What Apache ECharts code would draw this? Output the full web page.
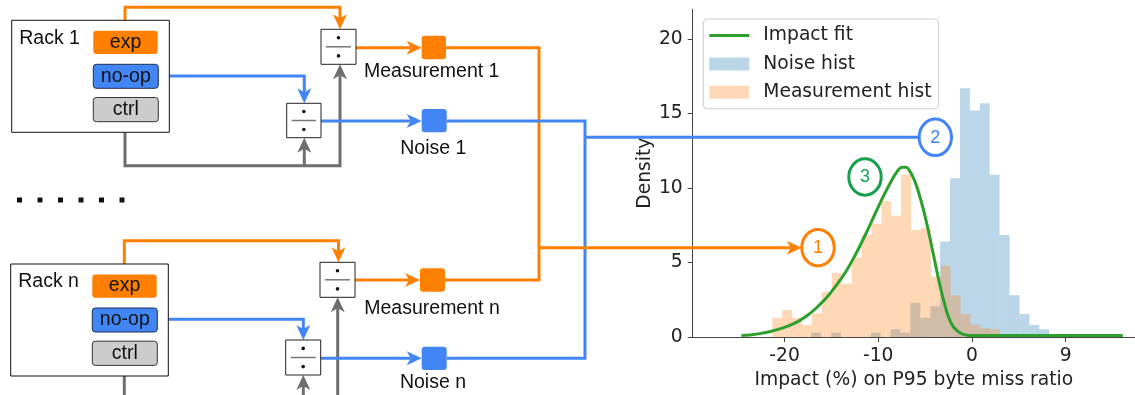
<!DOCTYPE html>
<html>
<head>
<meta charset="utf-8">
<script src="https://cdn.jsdelivr.net/npm/echarts@6/dist/echarts.min.js"></script>
<style>
  html, body { margin: 0; padding: 0; background: #fff; }
  #chart { width: 1135px; height: 395px; }
</style>
</head>
<body>
<div id="chart"></div>
<script>
// ---- chart data ----
const seriesNames = ['Impact fit', 'Noise hist', 'Measurement hist'];
const xTickValues = [-20, -10, 0, 10];
const xTickLabels = ['-20', '-10', '0', '9'];
const yTickValues = [0, 5, 10, 15, 20];

// Noise histogram: equal-width bins starting at noiseBinStart
const noiseBinStart = -17.15;
const noiseBinWidth = 1.058;
const noiseHeights = [0.3, 0, 0.3, 0, 0, 0, 0.3, 0, 0.53, 0.3, 2.3, 1.3, 2.08,
  6.41, 10.66, 16.7, 15.2, 15.7, 10.9, 6.86, 2.81, 1.55, 0.82, 0.53];

// Measurement histogram
const measBinStart = -21.3;
const measBinWidth = 1.057;
const measHeights = [1.28, 1.82, 1.28, 0.82, 1.6, 3.03, 4.31, 3.58, 5.35, 6.86,
  7.6, 9.11, 8.16, 10.92, 7.19, 7.34, 4.07, 4.8, 2.81, 1.55, 0.82, 0.6, 0.53];

// Fitted impact density
const fitX = [-24.6, -23.5, -22.5, -21.5, -20.5, -19.5, -18.5, -17.5, -16.5, -15.5,
  -14.5, -13.5, -12.5, -11.5, -10.5, -9.5, -8.5, -8.0, -7.5, -7.0, -6.5, -6.0,
  -5.5, -5.0, -4.5, -4.0, -3.5, -3.0, -2.5, -2.0, -1.5, -1.0, -0.5, 0, 2, 5, 10, 16.1];
const fitY = [0.1, 0.16, 0.25, 0.38, 0.55, 0.77, 1.07, 1.48, 2.02, 2.65,
  3.45, 4.35, 5.45, 6.7, 8.05, 9.4, 10.6, 11.1, 11.4, 11.4, 11.0, 10.3,
  9.3, 8.1, 6.7, 5.2, 3.7, 2.4, 1.35, 0.7, 0.38, 0.2, 0.13, 0.1, 0.1, 0.1, 0.1, 0.1];

// ---- styles ----
const ORANGE = '#ff8000';
const BLUE = '#4285f4';
const GRAY = '#6e6e6e';
const CIRCLE_GREEN = '#16a04e';
const FIT_GREEN = '#2ca02c';
const NOISE_FILL = 'rgba(31,119,180,0.3)';
const MEAS_FILL = 'rgba(255,127,14,0.3)';
const DIAGRAM_FONT = '"Liberation Sans", Arial, sans-serif';
const CHART_FONT = '"DejaVu Sans", sans-serif';

function binsToData(start, width, heights) {
  const out = [];
  heights.forEach((h, i) => {
    if (h > 0) out.push([start + i * width, start + (i + 1) * width, h]);
  });
  return out;
}

function renderBin(params, api) {
  const topLeft = api.coord([api.value(0), api.value(2)]);
  const bottomRight = api.coord([api.value(1), 0]);
  return {
    type: 'rect',
    shape: {
      x: topLeft[0], y: topLeft[1],
      width: bottomRight[0] - topLeft[0],
      height: bottomRight[1] - topLeft[1]
    },
    style: { fill: api.visual('color') }
  };
}

// ---- pipeline diagram ----
const g = [];
function poly(points, color, z) {
  g.push({ type: 'polyline', z: z || 20, silent: true,
    shape: { points: points },
    style: { stroke: color, lineWidth: 3, fill: 'none', lineJoin: 'miter', lineCap: 'butt' } });
}
const AL = 15, AW = 7, AN = 11;
function arrowHead(x, y, dir, color, z) {
  let pts;
  if (dir === 'down') pts = [[x, y], [x - AW, y - AL], [x, y - AN], [x + AW, y - AL]];
  else if (dir === 'up') pts = [[x, y], [x - AW, y + AL], [x, y + AN], [x + AW, y + AL]];
  else pts = [[x, y], [x - AL, y - AW], [x - AN, y], [x - AL, y + AW]];
  g.push({ type: 'polygon', z: (z || 20) + 1, silent: true, shape: { points: pts }, style: { fill: color } });
}
function box(x, y, w, h, fill, stroke, r) {
  g.push({ type: 'rect', z: 22, silent: true, shape: { x: x, y: y, width: w, height: h, r: r || 0 },
    style: { fill: fill, stroke: stroke || null, lineWidth: stroke ? 1 : 0 } });
}
function label(text, x, y, opts) {
  opts = opts || {};
  g.push({ type: 'text', z: opts.z || 25, silent: true, x: x, y: y,
    style: { text: text, fontSize: opts.size || 19.5, fontFamily: opts.font || DIAGRAM_FONT,
      fill: opts.color || '#111', align: opts.align || 'center', verticalAlign: 'middle',
      textAlign: opts.align || 'center', textVerticalAlign: 'middle' } });
}
function divider(x, y, w, h) {
  box(x, y, w, h, '#fff', '#222');
  const cx = x + w / 2;
  g.push({ type: 'circle', z: 23, silent: true, shape: { cx: cx, cy: y + h * 0.24, r: 1.8 }, style: { fill: '#111' } });
  g.push({ type: 'line', z: 23, silent: true, shape: { x1: x + 5, y1: y + h / 2, x2: x + w - 5, y2: y + h / 2 },
    style: { stroke: '#777', lineWidth: 1.5 } });
  g.push({ type: 'circle', z: 23, silent: true, shape: { cx: cx, cy: y + h * 0.76, r: 1.8 }, style: { fill: '#111' } });
}
function rack(name, x, y) {
  // y: top of rack box
  box(x, y, 157.6, 112, '#fff', '#111');
  label(name, x + 7.5, y + 18, { align: 'left' });
  box(x + 81.6, y + 10.4, 64.4, 23.3, ORANGE, null, 3);
  label('exp', x + 113.8, y + 22);
  box(x + 81.6, y + 44, 65, 24, BLUE, '#1d2f52', 3);
  label('no-op', x + 114.1, y + 56);
  box(x + 81.6, y + 77.2, 65, 24.2, '#cccccc', '#333', 3);
  label('ctrl', x + 114.1, y + 89.3);
}
function ring(num, cx, cy, color) {
  g.push({ type: 'ellipse', z: 30, silent: true, shape: { cx: cx, cy: cy, rx: 16.2, ry: 18.2 },
    style: { fill: '#fff', stroke: color, lineWidth: 3 } });
  label(num, cx, cy + 0.5, { color: color, size: 18, z: 31 });
}

// Rack 1 block
poly([[125, 30.7], [125, 7.3], [340, 7.3], [340, 29.3 - AN]], ORANGE);
arrowHead(340, 29.3, 'down', ORANGE);
poly([[158.3, 76], [304.3, 76], [304.3, 103.3 - AN]], BLUE);
arrowHead(304.3, 103.3, 'down', BLUE);
poly([[125, 121.7], [125, 165.7], [340, 165.7], [340, 64.3 + AN]], GRAY);
arrowHead(340, 64.3, 'up', GRAY);
poly([[304.3, 165.7], [304.3, 137.7 + AN]], GRAY);
arrowHead(304.3, 137.7, 'up', GRAY);
rack('Rack 1', 11.7, 20.3);
divider(321, 29.3, 35, 35);
divider(286.7, 103.3, 34.3, 34.4);
poly([[356, 47.7], [421.7 - AN, 47.7]], ORANGE);
arrowHead(421.7, 47.7, 'right', ORANGE);
poly([[321, 121], [421.7 - AN, 121]], BLUE);
arrowHead(421.7, 121, 'right', BLUE);

// Rack n block
poly([[124.3, 274.3], [124.3, 240.7], [338.5, 240.7], [338.5, 262.3 - AN]], ORANGE);
arrowHead(338.5, 262.3, 'down', ORANGE);
poly([[157.3, 319.3], [303.3, 319.3], [303.3, 340 - AN]], BLUE);
arrowHead(303.3, 340, 'down', BLUE);
poly([[124.3, 365], [124.3, 400]], GRAY);
poly([[303.3, 400], [303.3, 375 + AN]], GRAY);
arrowHead(303.3, 375, 'up', GRAY);
poly([[337.7, 400], [337.7, 297.3 + AN]], GRAY);
arrowHead(337.7, 297.3, 'up', GRAY);
rack('Rack n', 10.7, 264);
divider(320, 262.3, 35, 35);
divider(285.7, 340, 35, 35);
poly([[355, 280], [420 - AN, 280]], ORANGE);
arrowHead(420, 280, 'right', ORANGE);
poly([[320.7, 358.3], [421.7 - AN, 358.3]], BLUE);
arrowHead(421.7, 358.3, 'right', BLUE);

// Vertical ellipsis between racks
for (let i = 0; i < 6; i++) {
  g.push({ type: 'rect', z: 20, silent: true, shape: { x: 17 + i * 20.5, y: 197.5, width: 5, height: 5 }, style: { fill: '#111' } });
}

// Aggregation of measurements and noise
poly([[446, 47.7], [539, 47.7], [539, 280], [445, 280]], ORANGE, 18);
poly([[446.7, 121], [585, 121], [585, 358.3], [446.7, 358.3]], BLUE, 19);
poly([[585, 137.3], [919, 137.3]], BLUE, 19);
poly([[539, 247.7], [801.7 - AN, 247.7]], ORANGE, 20);
arrowHead(801.7, 247.7, 'right', ORANGE);
box(421.7, 35.7, 24.3, 23.6, ORANGE, null, 3);
box(420, 268.3, 25, 23.4, ORANGE, null, 3);
box(421.7, 109, 25, 23.3, BLUE, null, 3);
box(421.7, 346.7, 25, 23.3, BLUE, null, 3);
label('Measurement 1', 431.7, 71.7);
label('Noise 1', 433.3, 148.3);
label('Measurement n', 432, 308.3);
label('Noise n', 433, 382.7);

ring('1', 818, 247.7, ORANGE);
ring('2', 935.3, 137.3, BLUE);
ring('3', 865, 177, CIRCLE_GREEN);

// ---- chart ----
const chart = echarts.init(document.getElementById('chart'), null, { renderer: 'canvas' });
const axisText = { fontFamily: CHART_FONT, fontSize: 18.7, color: '#222' };

chart.setOption({
  animation: false,
  backgroundColor: '#fff',
  grid: { left: 692.7, right: 0, top: 9.3, bottom: 54.3, containLabel: false },
  legend: {
    orient: 'vertical', left: 703.3, top: 19,
    padding: [6, 7, 6, 6], itemWidth: 40, itemHeight: 13, itemGap: 7.4,
    backgroundColor: 'rgba(255,255,255,0.8)', borderColor: '#cccccc', borderWidth: 1, borderRadius: 4,
    textStyle: { fontFamily: CHART_FONT, fontSize: 18.7, color: '#222', lineHeight: 21, padding: [0, 0, 0, 9] },
    data: [
      { name: seriesNames[0], icon: 'path://M0,0h40v3h-40z', symbolKeepAspect: true,
        itemStyle: { color: FIT_GREEN } },
      { name: seriesNames[1], icon: 'rect' },
      { name: seriesNames[2], icon: 'rect' }
    ]
  },
  xAxis: {
    type: 'value', min: -29.8, max: 17.4,
    name: 'Impact (%) on P95 byte miss ratio', nameLocation: 'middle', nameGap: 31,
    nameTextStyle: axisText,
    axisLine: { show: true, onZero: false, lineStyle: { color: '#444', width: 1 } },
    axisTick: { show: true, length: 5, customValues: xTickValues, lineStyle: { color: '#444' } },
    axisLabel: { margin: 10, customValues: xTickValues,
      formatter: v => xTickLabels[xTickValues.indexOf(v)], ...axisText },
    splitLine: { show: false }
  },
  yAxis: {
    type: 'value', min: 0, max: 22,
    name: 'Density', nameLocation: 'middle', nameGap: 37, nameRotate: 90,
    nameTextStyle: axisText,
    axisLine: { show: true, onZero: false, lineStyle: { color: '#444', width: 1 } },
    axisTick: { show: true, length: 5, customValues: yTickValues, lineStyle: { color: '#444' } },
    axisLabel: { margin: 10, customValues: yTickValues, ...axisText },
    splitLine: { show: false }
  },
  series: [
    {
      name: seriesNames[1], type: 'custom', renderItem: renderBin,
      itemStyle: { color: NOISE_FILL },
      encode: { x: [0, 1], y: 2 },
      data: binsToData(noiseBinStart, noiseBinWidth, noiseHeights),
      z: 2
    },
    {
      name: seriesNames[2], type: 'custom', renderItem: renderBin,
      itemStyle: { color: MEAS_FILL },
      encode: { x: [0, 1], y: 2 },
      data: binsToData(measBinStart, measBinWidth, measHeights),
      z: 2
    },
    {
      name: seriesNames[0], type: 'line', symbol: 'none', showSymbol: false,
      smooth: 0.25,
      lineStyle: { color: FIT_GREEN, width: 3 },
      itemStyle: { color: FIT_GREEN },
      data: fitX.map((x, i) => [x, fitY[i]]),
      z: 3
    }
  ],
  graphic: { elements: g }
});
</script>
</body>
</html>
